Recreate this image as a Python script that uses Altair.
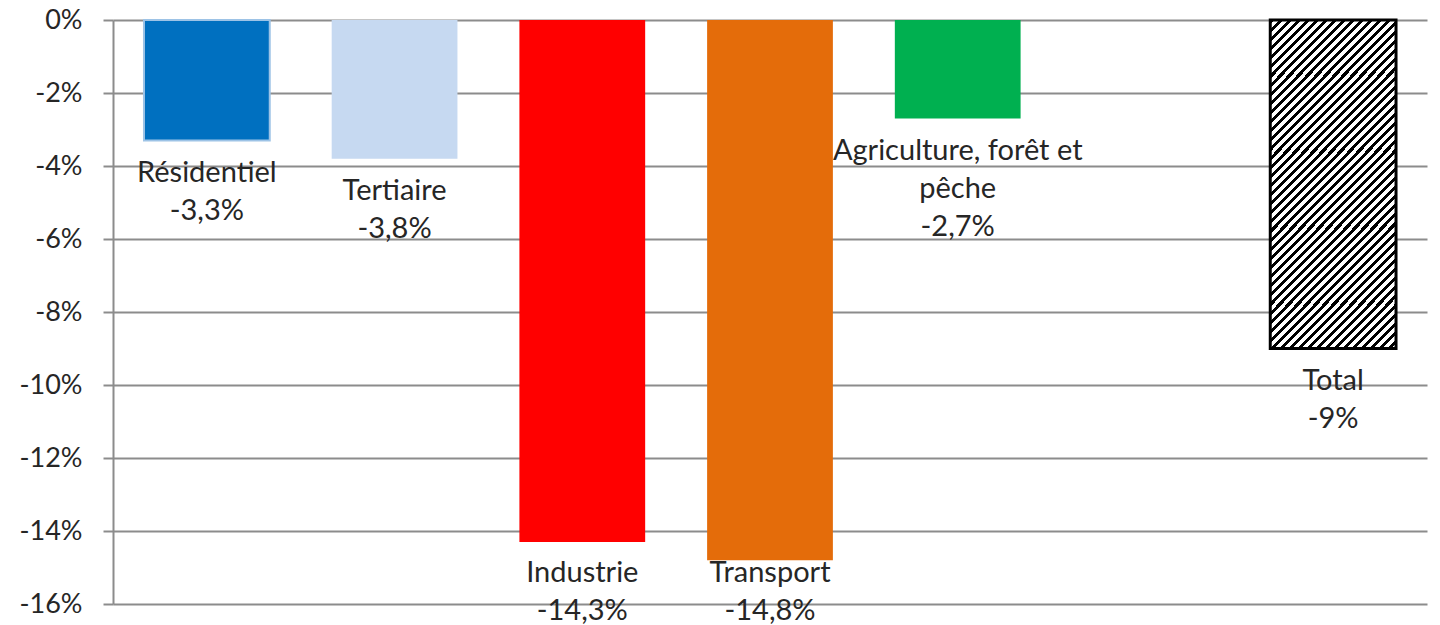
import textwrap
import altair as alt
import pandas as pd

# ---- data ----
categories = ["Résidentiel", "Tertiaire", "Industrie", "Transport",
              "Agriculture, forêt et pêche", "Total"]
values = [-3.3, -3.8, -14.3, -14.8, -2.7, -9.0]
colors = ["#0070C0", "#C6D9F1", "#FF0000", "#E46C0A", "#00B050", "#FFFFFF"]
y_ticks = [0, -2, -4, -6, -8, -10, -12, -14, -16]


def fmt(v):
    return f"{v:g}".replace(".", ",") + "%"


df = pd.DataFrame({
    "cat": categories,
    "value": values,
    "label": ["\n".join(textwrap.wrap(c, 21) + [fmt(v)])
              for c, v in zip(categories, values)],
})

# empty slot between Agriculture and Total
slots = categories[:5] + [" "] + categories[5:]

FONT = "Lato"
TXT = "#262626"
GRID = "#8C8C8C"

# diagonal hatch as a hard-stop linear gradient
N = 50
stops = []
for k in range(N):
    a, b, c = k / N, (k + 0.45) / N, (k + 1) / N
    stops += [{"offset": a, "color": "black"}, {"offset": b, "color": "black"},
              {"offset": b, "color": "white"}, {"offset": c, "color": "white"}]
hatch = {"gradient": "linear", "x1": 0, "y1": 0, "x2": 0.468, "y2": 1.2065,
         "stops": stops}

x = alt.X("cat:N", sort=slots,
          scale=alt.Scale(domain=slots, paddingInner=0.33, paddingOuter=0.165),
          axis=None)
y = alt.Y("value:Q", title=None,
          scale=alt.Scale(domain=[-16, 0], nice=False, zero=True),
          axis=alt.Axis(values=y_ticks, labelExpr="datum.value + '%'",
                        grid=True, gridColor=GRID, gridWidth=2,
                        domainColor=GRID, domainWidth=2,
                        tickColor=GRID, tickWidth=2, tickSize=10,
                        labelPadding=21, labelFont=FONT, labelFontSize=27,
                        labelColor=TXT, title=None))

base = alt.Chart(df)

bars = base.transform_filter(alt.datum.cat != "Total").mark_bar().encode(
    x=x, y=y,
    color=alt.Color("cat:N", scale=alt.Scale(domain=categories, range=colors),
                    legend=None),
    stroke=alt.value("#9DC3E6"),
    strokeWidth=alt.condition(alt.datum.cat == "Résidentiel",
                              alt.value(2), alt.value(0)),
)

total = base.transform_filter(alt.datum.cat == "Total").mark_bar(
    fill=hatch, stroke="black", strokeWidth=3
).encode(x=x, y=y)

labels = base.transform_calculate(
    ly="max(datum.value, -14.25)"
).mark_text(
    lineBreak="\n", lineHeight=38, baseline="alphabetic", align="center",
    dy=41.5, font=FONT, fontSize=29, color=TXT
).encode(x=x, y=alt.Y("ly:Q", title=None), text="label:N")

chart = alt.layer(bars, total, labels).properties(
    width=1314, height=584,
    autosize=alt.AutoSizeParams(type="none"),
    padding={"left": 105, "top": 12, "right": 5, "bottom": 22},
).configure_view(stroke=None)

chart.save("out.html", embed_options={"renderer": "svg", "actions": False})
